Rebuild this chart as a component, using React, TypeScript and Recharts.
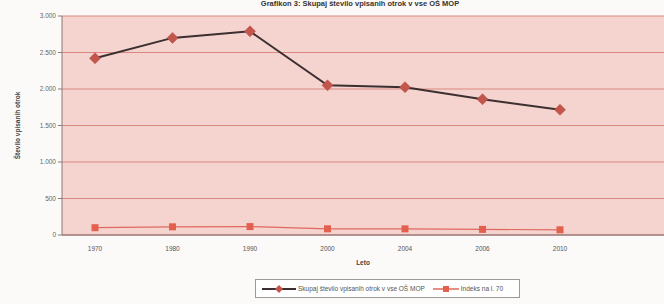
import React from "react";
import {
  LineChart,
  Line,
  XAxis,
  YAxis,
  CartesianGrid,
  Legend,
} from "recharts";

const years = ["1970", "1980", "1990", "2000", "2004", "2006", "2010"];
const totalPupils = [2420, 2700, 2790, 2050, 2025, 1860, 1715];
const indexTo1970 = [100, 112, 115, 85, 84, 77, 71];
const yTicks = [0, 500, 1000, 1500, 2000, 2500, 3000];

const TOTAL_NAME = "Skupaj število vpisanih otrok v vse OŠ MOP";
const INDEX_NAME = "Indeks na l. 70";

const chartData = years.map((year, i) => ({
  year,
  total: totalPupils[i],
  index: indexTo1970[i],
}));

const FONT = "'Liberation Sans', Arial, sans-serif";

const fmt = (v: number) => v.toLocaleString("de-DE");

const Diamond = (props: any) => {
  const { cx, cy, index } = props;
  if (cx == null || cy == null) return null;
  const r = 5.5;
  return (
    <path
      key={`d-${index}`}
      d={`M${cx},${cy - r} L${cx + r},${cy} L${cx},${cy + r} L${cx - r},${cy} Z`}
      fill="#c2564c"
      stroke="#b24a42"
      strokeWidth={0.5}
    />
  );
};

const Square = (props: any) => {
  const { cx, cy, index } = props;
  if (cx == null || cy == null) return null;
  return (
    <rect
      key={`s-${index}`}
      x={cx - 3.5}
      y={cy - 3.5}
      width={7}
      height={7}
      fill="#e4604e"
    />
  );
};

const LegendBox = () => (
  <div
    style={{
      border: "1px solid #9a9a9a",
      height: 17,
      display: "flex",
      alignItems: "center",
      fontFamily: FONT,
      fontSize: 6.5,
      color: "#555",
      paddingLeft: 6,
      background: "#fff",
    }}
  >
    <svg width={34} height={10}>
      <line x1={0} y1={5} x2={34} y2={5} stroke="#3b2f2f" strokeWidth={2} />
      <path d="M17,1 L21,5 L17,9 L13,5 Z" fill="#c2564c" />
    </svg>
    <span style={{ marginLeft: 2, marginRight: 8 }}>{TOTAL_NAME}</span>
    <svg width={26} height={10}>
      <line x1={0} y1={5} x2={26} y2={5} stroke="#de6a5e" strokeWidth={1.5} />
      <rect x={10} y={2} width={6} height={6} fill="#e4604e" />
    </svg>
    <span style={{ marginLeft: 2 }}>{INDEX_NAME}</span>
  </div>
);

export default function App() {
  return (
    <div
      style={{
        position: "absolute",
        left: 0,
        top: 0,
        width: 664,
        height: 304,
        background: "#fbfaf9",
        overflow: "hidden",
      }}
    >
      <div
        style={{
          position: "absolute",
          left: 230,
          top: -2,
          width: 260,
          textAlign: "center",
          fontFamily: FONT,
          fontSize: 7.5,
          fontWeight: "bold",
          color: "#333",
          lineHeight: "12px",
        }}
      >
        Grafikon 3: Skupaj število vpisanih otrok v vse OŠ MOP
      </div>
      <LineChart
        width={664}
        height={304}
        data={chartData}
        margin={{ top: 16, right: 0, bottom: 20, left: 0 }}
      >
        <CartesianGrid
          vertical={false}
          fill="#f5d3cf"
          stroke="#d98880"
          strokeWidth={1}
        />
        <XAxis
          dataKey="year"
          padding={{ left: 33, right: 104 }}
          height={30}
          axisLine={{ stroke: "#7a6a6a" }}
          tickLine={false}
          tick={{ fontSize: 6.5, fill: "#555", fontFamily: FONT }}
          tickMargin={5}
          label={{
            value: "Leto",
            position: "insideBottom",
            offset: 0,
            style: { fontSize: 6.5, fill: "#444", fontFamily: FONT, fontWeight: "bold" },
          }}
        />
        <YAxis
          width={62}
          domain={[0, 3000]}
          ticks={yTicks}
          interval={0}
          tickFormatter={fmt}
          axisLine={{ stroke: "#8a7a7a" }}
          tickLine={{ stroke: "#8a7a7a" }}
          tickSize={4}
          tick={{ fontSize: 6.5, fill: "#666", fontFamily: FONT }}
          label={{
            value: "Število vpisanih otrok",
            angle: -90,
            position: "insideLeft",
            offset: 18,
            style: {
              fontSize: 6.5,
              fill: "#444",
              fontFamily: FONT,
              fontWeight: "bold",
              textAnchor: "middle",
            },
          }}
        />
        <Line
          dataKey="total"
          name={TOTAL_NAME}
          stroke="#3b2f2f"
          strokeWidth={2}
          dot={Diamond}
          activeDot={false}
          isAnimationActive={false}
        />
        <Line
          dataKey="index"
          name={INDEX_NAME}
          stroke="#de6a5e"
          strokeWidth={1.2}
          dot={Square}
          activeDot={false}
          isAnimationActive={false}
        />
        <Legend
          content={<LegendBox />}
          wrapperStyle={{ left: 255, bottom: 6, width: 265, height: 19 }}
        />
      </LineChart>
    </div>
  );
}
